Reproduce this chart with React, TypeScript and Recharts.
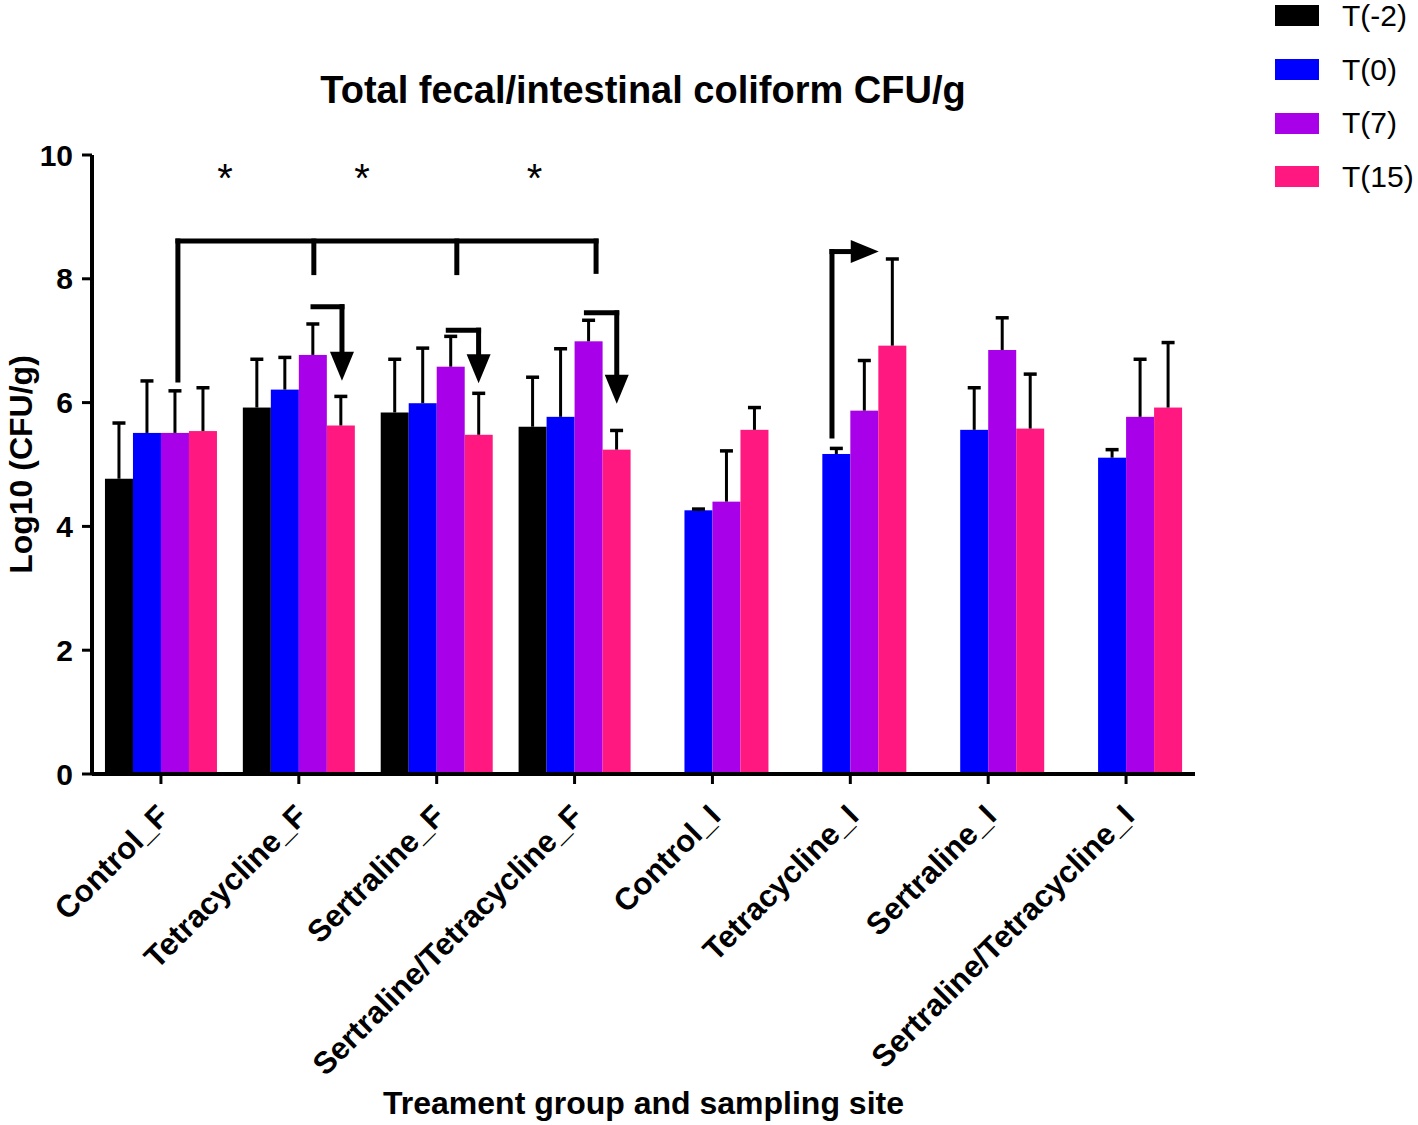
import React from 'react';
import { BarChart, Bar, XAxis, YAxis, Legend, ReferenceLine, ReferenceDot, Label } from 'recharts';

const FONT = '"Liberation Sans", Arial, Helvetica, sans-serif';

// ---- data ----
const categories = [
  'Control_F',
  'Tetracycline_F',
  'Sertraline_F',
  'Sertraline/Tetracycline_F',
  'Control_I',
  'Tetracycline_I',
  'Sertraline_I',
  'Sertraline/Tetracycline_I',
];
const seriesNames = ['T(-2)', 'T(0)', 'T(7)', 'T(15)'];
const seriesKeys = ['tm2', 't0', 't7', 't15'];
const seriesColors = ['#000000', '#0000FF', '#A800E8', '#FF1880'];

const tm2Mean = [4.77, 5.92, 5.84, 5.61, null, null, null, null];
const tm2Err = [0.9, 0.78, 0.86, 0.8, null, null, null, null];
const t0Mean = [5.51, 6.21, 5.99, 5.77, 4.26, 5.17, 5.56, 5.11];
const t0Err = [0.84, 0.52, 0.89, 1.1, 0.02, 0.09, 0.68, 0.13];
const t7Mean = [5.51, 6.77, 6.58, 6.99, 4.4, 5.87, 6.85, 5.77];
const t7Err = [0.68, 0.5, 0.49, 0.34, 0.82, 0.81, 0.52, 0.93];
const t15Mean = [5.54, 5.63, 5.48, 5.24, 5.56, 6.92, 5.58, 5.92];
const t15Err = [0.7, 0.47, 0.67, 0.31, 0.36, 1.4, 0.88, 1.05];
const yTicks = [0, 2, 4, 6, 8, 10];

// annotation geometry in (category-band units 0..8, log10 units)
const bracketSegments = [
  [0.623, 6.365, 0.623, 8.61],
  [0.623, 8.61, 3.656, 8.61],
  [1.609, 8.61, 1.609, 8.1],
  [2.646, 8.61, 2.646, 8.1],
  [3.656, 8.61, 3.656, 8.12],
  [1.603, 7.55, 1.813, 7.55],
  [1.813, 7.55, 1.813, 6.82],
  [2.584, 7.17, 2.804, 7.17],
  [2.804, 7.17, 2.804, 6.78],
  [3.586, 7.45, 3.806, 7.45],
  [3.806, 7.45, 3.806, 6.45],
  [5.367, 5.46, 5.367, 8.44],
  [5.367, 8.44, 5.503, 8.44],
];
const arrowHeads = [
  { x: 1.813, y: 6.82, dir: 'down' },
  { x: 2.804, y: 6.78, dir: 'down' },
  { x: 3.806, y: 6.45, dir: 'down' },
  { x: 5.503, y: 8.44, dir: 'right' },
];
const asterisks = [
  { x: 0.965, y: 9.71 },
  { x: 1.959, y: 9.71 },
  { x: 3.21, y: 9.71 },
];

// the hidden numeric x axis of a horizontal BarChart spans the row indexes
// (0 .. n-1) across the full plot width; convert band units onto it
const N = categories.length;
const toAnn = (u: number) => (u * (N - 1)) / N;

const means = [tm2Mean, t0Mean, t7Mean, t15Mean];
const errs = [tm2Err, t0Err, t7Err, t15Err];

const data = categories.map((name, i) => {
  const row: any = { name };
  seriesKeys.forEach((k, s) => {
    row[k] = means[s][i];
    row[k + 'Err'] = errs[s][i];
  });
  return row;
});

const makeShape = (key: string) => (props: any) => {
  const { x, y, width, height, fill, payload } = props;
  const v = payload ? payload[key] : null;
  if (v == null || !(height > 0)) return null;
  const err = payload[key + 'Err'] || 0;
  const pxPerUnit = height / v;
  const cx = x + width / 2;
  const top = y - err * pxPerUnit;
  return (
    <g>
      <rect x={x} y={y} width={width} height={height} fill={fill} />
      {err > 0 && (
        <g>
          <line x1={cx} x2={cx} y1={y} y2={top} stroke="#000" strokeWidth={3} />
          <line x1={cx - 6.5} x2={cx + 6.5} y1={top} y2={top} stroke="#000" strokeWidth={3.5} />
        </g>
      )}
    </g>
  );
};

const XTick = (props: any) => {
  const { x, y, payload } = props;
  const ax = x + 10;
  const ay = y + 34;
  return (
    <text
      x={ax}
      y={ay}
      transform={`rotate(-45 ${ax} ${ay})`}
      textAnchor="end"
      fontSize={31}
      fontWeight="bold"
      fontFamily={FONT}
      fill="#000"
    >
      {payload.value}
    </text>
  );
};

const triangleShape = (dir: string) => (p: any) => {
  const { cx, cy } = p;
  if (cx == null || cy == null) return null;
  let pts = '';
  if (dir === 'down') {
    pts = `${cx - 12},${cy} ${cx + 12},${cy} ${cx},${cy + 29}`;
  } else {
    pts = `${cx},${cy - 11.5} ${cx},${cy + 11.5} ${cx + 28},${cy}`;
  }
  return <polygon points={pts} fill="#000" />;
};

const asteriskShape = (p: any) => {
  const { cx, cy } = p;
  if (cx == null || cy == null) return null;
  return (
    <text x={cx} y={cy + 19} textAnchor="middle" fontSize={40} fontFamily={FONT} fill="#000">
      *
    </text>
  );
};

const LegendContent = () => (
  <div style={{ fontFamily: FONT }}>
    {seriesNames.map((n, i) => (
      <div key={n} style={{ display: 'flex', alignItems: 'center', height: 53.7 }}>
        <div style={{ width: 44, height: 21, background: seriesColors[i], marginRight: 23 }} />
        <span style={{ fontSize: 30, color: '#000', lineHeight: '30px' }}>{n}</span>
      </div>
    ))}
  </div>
);

export default function App() {
  return (
    <div style={{ position: 'absolute', left: 0, top: 0, width: 1418, height: 1125, background: '#fff' }}>
      <div
        style={{
          position: 'absolute',
          left: 143,
          width: 1000,
          top: 71,
          textAlign: 'center',
          fontFamily: FONT,
          fontWeight: 'bold',
          fontSize: 38,
          lineHeight: '38px',
          color: '#000',
          whiteSpace: 'nowrap',
          zIndex: 2,
        }}
      >
        Total fecal/intestinal coliform CFU/g
      </div>
      <BarChart
        width={1418}
        height={1125}
        data={data}
        margin={{ top: 155, right: 223, bottom: 0, left: 0 }}
        barCategoryGap="9.4%"
        barGap={0}
      >
        <XAxis
          dataKey="name"
          height={351}
          interval={0}
          tick={<XTick />}
          tickSize={10}
          tickMargin={0}
          axisLine={{ stroke: '#000', strokeWidth: 4 }}
          tickLine={{ stroke: '#000', strokeWidth: 3 }}
        >
          <Label
            content={(p: any) => {
              const vb = p.viewBox || {};
              return (
                <text
                  x={vb.x + vb.width / 2}
                  y={vb.y + vb.height - 11}
                  textAnchor="middle"
                  fontSize={32}
                  fontWeight="bold"
                  fontFamily={FONT}
                  fill="#000"
                >
                  Treament group and sampling site
                </text>
              );
            }}
          />
        </XAxis>
        <XAxis xAxisId="ann" type="number" hide />
        <YAxis
          width={92}
          domain={[0, 10]}
          ticks={yTicks}
          interval={0}
          tickSize={10}
          tickMargin={9}
          tick={{ fontSize: 30, fontWeight: 'bold', fill: '#000', fontFamily: FONT }}
          axisLine={{ stroke: '#000', strokeWidth: 4 }}
          tickLine={{ stroke: '#000', strokeWidth: 3 }}
        >
          <Label
            content={(p: any) => {
              const vb = p.viewBox || {};
              const cx = vb.x + 32;
              const cy = vb.y + vb.height / 2;
              return (
                <text
                  x={cx}
                  y={cy}
                  transform={`rotate(-90 ${cx} ${cy})`}
                  textAnchor="middle"
                  fontSize={32}
                  fontWeight="bold"
                  fontFamily={FONT}
                  fill="#000"
                >
                  Log10 (CFU/g)
                </text>
              );
            }}
          />
        </YAxis>
        <Legend
          content={LegendContent}
          layout="horizontal"
          verticalAlign="middle"
          align="center"
          wrapperStyle={{ top: -11, left: 1275, width: 143, height: 216 }}
        />
        {seriesKeys.map((k, i) => (
          <Bar
            key={k}
            dataKey={k}
            name={seriesNames[i]}
            fill={seriesColors[i]}
            isAnimationActive={false}
            shape={makeShape(k)}
          />
        ))}
        {bracketSegments.map((s, i) => (
          <ReferenceLine
            key={'seg' + i}
            xAxisId="ann"
            segment={[
              { x: toAnn(s[0]), y: s[1] },
              { x: toAnn(s[2]), y: s[3] },
            ]}
            stroke="#000"
            strokeWidth={5}
            strokeLinecap="square"
          />
        ))}
        {arrowHeads.map((a, i) => (
          <ReferenceDot
            key={'ah' + i}
            xAxisId="ann"
            x={toAnn(a.x)}
            y={a.y}
            r={1}
            shape={triangleShape(a.dir)}
          />
        ))}
        {asterisks.map((a, i) => (
          <ReferenceDot key={'as' + i} xAxisId="ann" x={toAnn(a.x)} y={a.y} r={1} shape={asteriskShape} />
        ))}
      </BarChart>
    </div>
  );
}
